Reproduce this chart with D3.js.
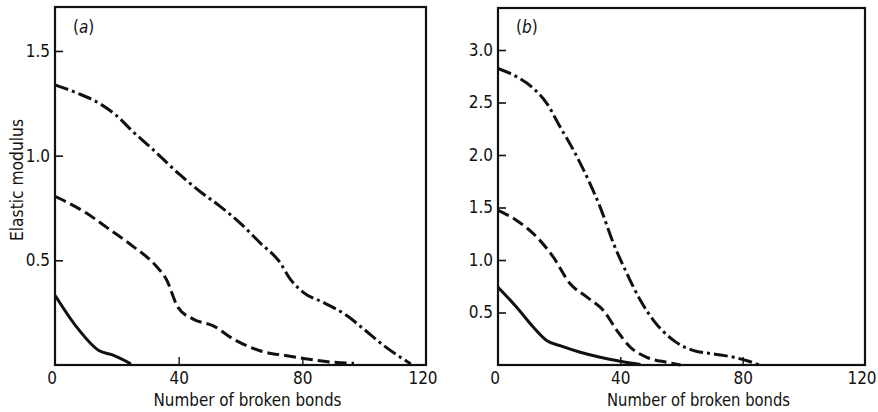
<!DOCTYPE html>
<html>
<head>
<meta charset="utf-8">
<script src="https://cdn.jsdelivr.net/npm/d3@7"></script>
<style>
  html, body { margin: 0; padding: 0; background: #fff; }
  svg text { font-family: "DejaVu Sans Condensed", "DejaVu Sans", sans-serif; fill: #111; }
</style>
</head>
<body>
<svg id="chart" width="878" height="412"></svg>
<script>
// ---- data ----
const xTicks = [0, 40, 80, 120];
const yTicksA = [0.5, 1.0, 1.5];
const yTicksB = [0.5, 1.0, 1.5, 2.0, 2.5, 3.0];

// Panel (a)
const aDashDot = [[0,1.338],[7,1.30],[14.3,1.25],[20,1.19],[25.1,1.116],[31.7,1.029],[40.3,0.91],[46.8,0.83],[53.3,0.759],[59.8,0.679],[66.3,0.584],[72.8,0.489],[76.1,0.41],[80.4,0.346],[86.9,0.298],[94.5,0.235],[99.9,0.171],[106.4,0.092],[115.1,0.005]];
const aDashed = [[0,0.806],[10,0.727],[17.6,0.648],[25.1,0.568],[32.7,0.473],[36,0.41],[39.8,0.275],[44.7,0.219],[51.2,0.187],[57.7,0.124],[66.3,0.068],[75,0.044],[81.5,0.029],[90.2,0.013],[96.7,0.008]];
const aSolid = [[0,0.333],[6.7,0.187],[14.3,0.068],[18.6,0.048],[24.6,0.005]];

// Panel (b)
const bDashDot = [[0,2.824],[6.1,2.745],[11.6,2.634],[16,2.49],[20.3,2.268],[24.7,2.045],[29.1,1.79],[33.4,1.504],[37.8,1.155],[42.2,0.868],[46.6,0.614],[50.9,0.423],[57.5,0.232],[64,0.137],[70.6,0.105],[77.2,0.073],[81.5,0.041],[85.4,0.0]];
const bDashed = [[0,1.473],[6.1,1.377],[12.7,1.218],[18.1,1.027],[23.6,0.773],[29.1,0.646],[34.5,0.518],[38.9,0.328],[43.3,0.169],[48.7,0.073],[55.3,0.025],[59.7,0.0]];
const bSolid = [[0,0.741],[6.1,0.55],[11.6,0.359],[16,0.232],[20.3,0.184],[26.9,0.121],[33.4,0.073],[40,0.035],[46.6,0.005]];

const panels = [
  { label: "a", left: 55, right: 426, top: 7, bottom: 365, yMax: 1.71, yTicks: yTicksA,
    series: [aDashDot, aDashed, aSolid], titleX: 247.5, titleW: 188, ylabel: true },
  { label: "b", left: 498, right: 865, top: 8, bottom: 365, yMax: 3.40, yTicks: yTicksB,
    series: [bDashDot, bDashed, bSolid], titleX: 698.5, titleW: 183, ylabel: false }
];
const dashes = ["14,4,3,4", "12,5", null];

const svg = d3.select("#chart");
const ink = "#111";
const FF = '"DejaVu Sans Condensed", "DejaVu Sans", sans-serif';

panels.forEach(p => {
  const x = d3.scaleLinear().domain([0, 120]).range([p.left, p.right]);
  const y = d3.scaleLinear().domain([0, p.yMax]).range([p.bottom, p.top]);
  const g = svg.append("g");

  // curves
  const line = d3.line().x(d => x(d[0])).y(d => y(d[1])).curve(d3.curveMonotoneX);
  p.series.forEach((s, i) => {
    g.append("path").datum(s).attr("d", line)
      .attr("fill", "none").attr("stroke", ink).attr("stroke-width", 3)
      .attr("stroke-linecap", "butt")
      .attr("stroke-dasharray", dashes[i]);
  });

  // frame
  g.append("rect").attr("x", p.left).attr("y", p.top)
    .attr("width", p.right - p.left).attr("height", p.bottom - p.top)
    .attr("fill", "none").attr("stroke", ink).attr("stroke-width", 2.2);

  // y axis (ticks inward)
  const yAxis = d3.axisLeft(y).tickValues(p.yTicks).tickFormat(d3.format(".1f"))
    .tickSizeInner(-8).tickSizeOuter(0).tickPadding(5);
  const ya = g.append("g").attr("transform", `translate(${p.left},0)`).call(yAxis);
  ya.attr("font-size", null).attr("font-family", null);
  ya.select(".domain").remove();
  ya.selectAll("line").attr("stroke", ink).attr("stroke-width", 1.6);
  ya.selectAll("text").attr("font-size", 17).attr("fill", ink).attr("font-family", FF);

  // x axis (ticks inward)
  const xAxis = d3.axisBottom(x).tickValues(xTicks).tickFormat(d3.format("d"))
    .tickSizeInner(-8).tickSizeOuter(0).tickPadding(7);
  const xa = g.append("g").attr("transform", `translate(0,${p.bottom})`).call(xAxis);
  xa.attr("font-size", null).attr("font-family", null);
  xa.select(".domain").remove();
  xa.selectAll("line").attr("stroke", ink).attr("stroke-width", 1.4)
    .attr("opacity", (d) => (d === 0 || d === 120) ? 0 : 1);
  xa.selectAll("text").attr("font-size", 17).attr("fill", ink).attr("font-family", FF)
    .attr("dx", (d) => (d === 0 || d === 120) ? -3.5 : 0);

  // x title
  g.append("text").attr("x", p.titleX).attr("y", 406)
    .attr("text-anchor", "middle").attr("font-size", 17)
    .attr("textLength", p.titleW).attr("lengthAdjust", "spacingAndGlyphs")
    .text("Number of broken bonds");

  // panel label
  const lab = g.append("text").attr("x", p.left + 18).attr("y", 33).attr("font-size", 17);
  lab.append("tspan").text("(");
  lab.append("tspan").attr("font-style", "italic").text(p.label);
  lab.append("tspan").text(")");

  if (p.ylabel) {
    g.append("text").attr("transform", "translate(23,180) rotate(-90)")
      .attr("text-anchor", "middle").attr("font-size", 17)
      .attr("textLength", 122).attr("lengthAdjust", "spacingAndGlyphs")
      .text("Elastic modulus");
  }
});
</script>
</body>
</html>
